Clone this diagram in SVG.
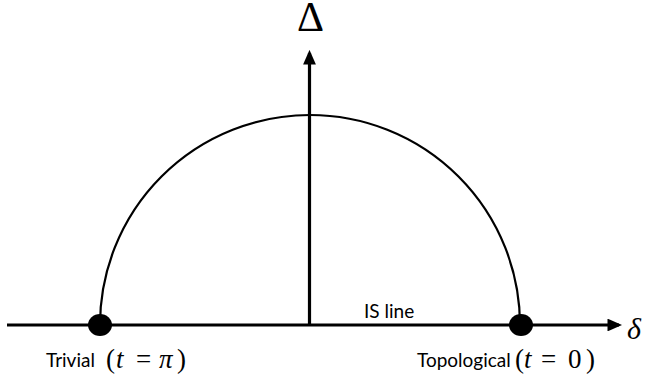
<svg xmlns="http://www.w3.org/2000/svg" width="646" height="377" viewBox="0 0 646 377">
<style>
.ax{stroke:#000;stroke-width:3.2;fill:none}
.arc{stroke:#000;stroke-width:2.2;fill:none}
.lbl{font-family:Lato,"Open Sans",sans-serif;font-size:19px;fill:#000}
.math{font-family:"Liberation Serif","DejaVu Serif",serif;font-size:27px;fill:#000}
.mi{font-style:italic}
</style>
<defs>
<marker id="ah" markerWidth="4.6" markerHeight="4" refX="3.6" refY="2" orient="auto" markerUnits="strokeWidth">
<path d="M0,0 L4.6,2 L0,4 Z" fill="#000"/>
</marker>
</defs>
<g id="connectors">
<line class="ax" x1="7" y1="325" x2="619" y2="325" marker-end="url(#ah)"/>
<line class="ax" x1="309.5" y1="325" x2="309.5" y2="53" marker-end="url(#ah)"/>
<path class="arc" d="M100,325 A210,210 0 0 1 520,325"/>
</g>
<g id="trivial">
<ellipse cx="100" cy="325" rx="12" ry="11" fill="#000"/>
<text x="46" y="367" class="lbl">Trivial</text>
<text y="368" class="math"><tspan x="106">(</tspan><tspan x="116" class="mi">t</tspan><tspan x="136">=</tspan><tspan x="159" class="mi">π</tspan><tspan x="177">)</tspan></text>
</g>
<g id="topological">
<ellipse cx="521" cy="325" rx="12" ry="11" fill="#000"/>
<text x="417" y="367" class="lbl">Topological</text>
<text y="368" class="math"><tspan x="515">(</tspan><tspan x="524" class="mi">t</tspan><tspan x="541">=</tspan><tspan x="568">0</tspan><tspan x="586">)</tspan></text>
</g>
<g id="isline">
<text x="364" y="318" class="lbl">IS line</text>
</g>
<g id="delta-axis">
<text x="297" y="31" style="font-family:'Liberation Serif',serif;font-size:42px;fill:#000">Δ</text>
</g>
<g id="delta-small">
<text x="627" y="339" class="math mi" style="font-size:30px">δ</text>
</g>
</svg>
